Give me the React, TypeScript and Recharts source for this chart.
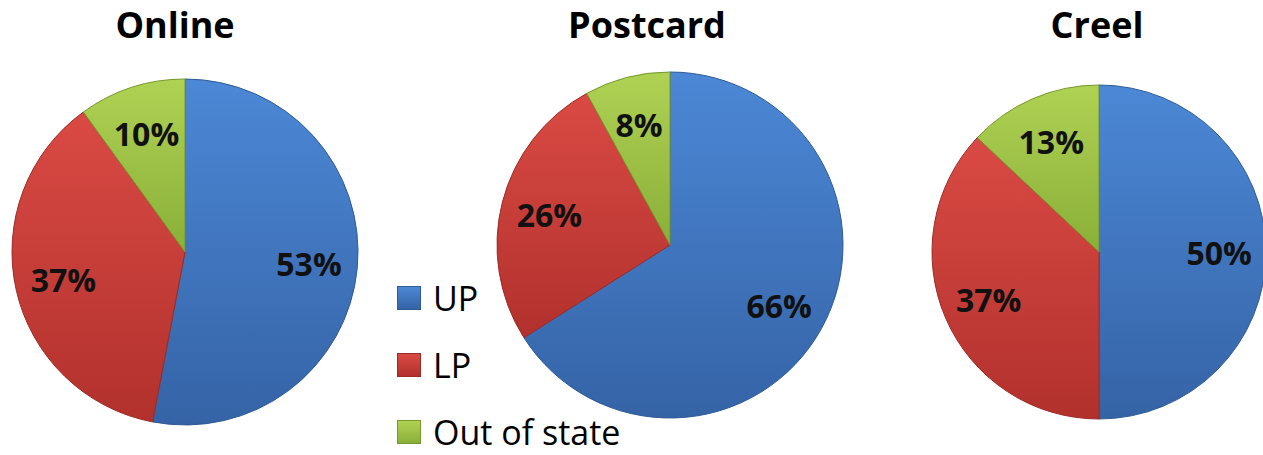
import React from 'react';
import { PieChart, Pie, Cell, Legend } from 'recharts';

const categories = ['UP', 'LP', 'Out of state'];
const titles = ['Online', 'Postcard', 'Creel'];
const onlineValues = [53, 37, 10];
const postcardValues = [66, 26, 8];
const creelValues = [50, 37, 13];

const sliceColors = [
  { id: 'gUp', top: '#4c88d6', bottom: '#3563a6', stroke: '#2e5a96' },
  { id: 'gLp', top: '#da4a44', bottom: '#b2312d', stroke: '#9c2a27' },
  { id: 'gOut', top: '#afd254', bottom: '#8aaf38', stroke: '#76982e' },
];

const toRows = (values: number[]) => categories.map((name, i) => ({ name, value: values[i] }));

const pies = [
  { title: titles[0], data: toRows(onlineValues), cx: 185, cy: 252, r: 173, titleX: 175 },
  { title: titles[1], data: toRows(postcardValues), cx: 670, cy: 245, r: 173, titleX: 647 },
  { title: titles[2], data: toRows(creelValues), cx: 1099, cy: 252, r: 167, titleX: 1097 },
];

const RAD = Math.PI / 180;

const renderLabel = (props: any) => {
  const { cx, cy, midAngle, outerRadius, value } = props;
  const r = outerRadius * 0.72;
  const x = cx + r * Math.cos(-midAngle * RAD);
  const y = cy + r * Math.sin(-midAngle * RAD);
  return (
    <text
      x={x}
      y={y}
      textAnchor="middle"
      dominantBaseline="central"
      fill="#111"
      fontFamily="'Open Sans', sans-serif"
      fontWeight="bold"
      fontSize={32}
    >
      {`${value}%`}
    </text>
  );
};

const renderLegend = () => (
  <div style={{ fontFamily: "'Open Sans', sans-serif", fontSize: 34, color: '#000' }}>
    {categories.map((name, i) => (
      <div key={name} style={{ display: 'flex', alignItems: 'center', height: 67 }}>
        <span
          style={{
            display: 'inline-block',
            width: 24,
            height: 24,
            marginRight: 12,
            background: `linear-gradient(${sliceColors[i].top}, ${sliceColors[i].bottom})`,
            border: `1px solid ${sliceColors[i].stroke}`,
            boxSizing: 'border-box',
          }}
        />
        <span style={{ lineHeight: 1 }}>{name}</span>
      </div>
    ))}
  </div>
);

export default function App() {
  return (
    <div style={{ position: 'absolute', left: 0, top: 0, width: 1263, height: 455, background: '#fff' }}>
      <PieChart width={1263} height={455} margin={{ top: 0, right: 0, bottom: 0, left: 0 }}>
        <defs>
          {sliceColors.map((c) => (
            <linearGradient key={c.id} id={c.id} x1="0" y1="0" x2="0" y2="1">
              <stop offset="0%" stopColor={c.top} />
              <stop offset="100%" stopColor={c.bottom} />
            </linearGradient>
          ))}
        </defs>
        {pies.map((p) => (
          <Pie
            key={p.title}
            data={p.data}
            dataKey="value"
            nameKey="name"
            cx={p.cx}
            cy={p.cy}
            outerRadius={p.r}
            startAngle={90}
            endAngle={-270}
            label={renderLabel}
            labelLine={false}
            isAnimationActive={false}
            legendType="none"
          >
            {p.data.map((d, i) => (
              <Cell key={d.name} fill={`url(#${sliceColors[i].id})`} stroke={sliceColors[i].stroke} strokeWidth={1} />
            ))}
          </Pie>
        ))}
        {pies.map((p) => (
          <text
            key={`t-${p.title}`}
            x={p.titleX}
            y={38}
            textAnchor="middle"
            fontFamily="'Open Sans', sans-serif"
            fontWeight="bold"
            fontSize={36}
            fill="#000"
          >
            {p.title}
          </text>
        ))}
        <Legend
          content={renderLegend}
          wrapperStyle={{ position: 'absolute', left: 397, top: 264, width: 260, height: 185 }}
        />
      </PieChart>
    </div>
  );
}
